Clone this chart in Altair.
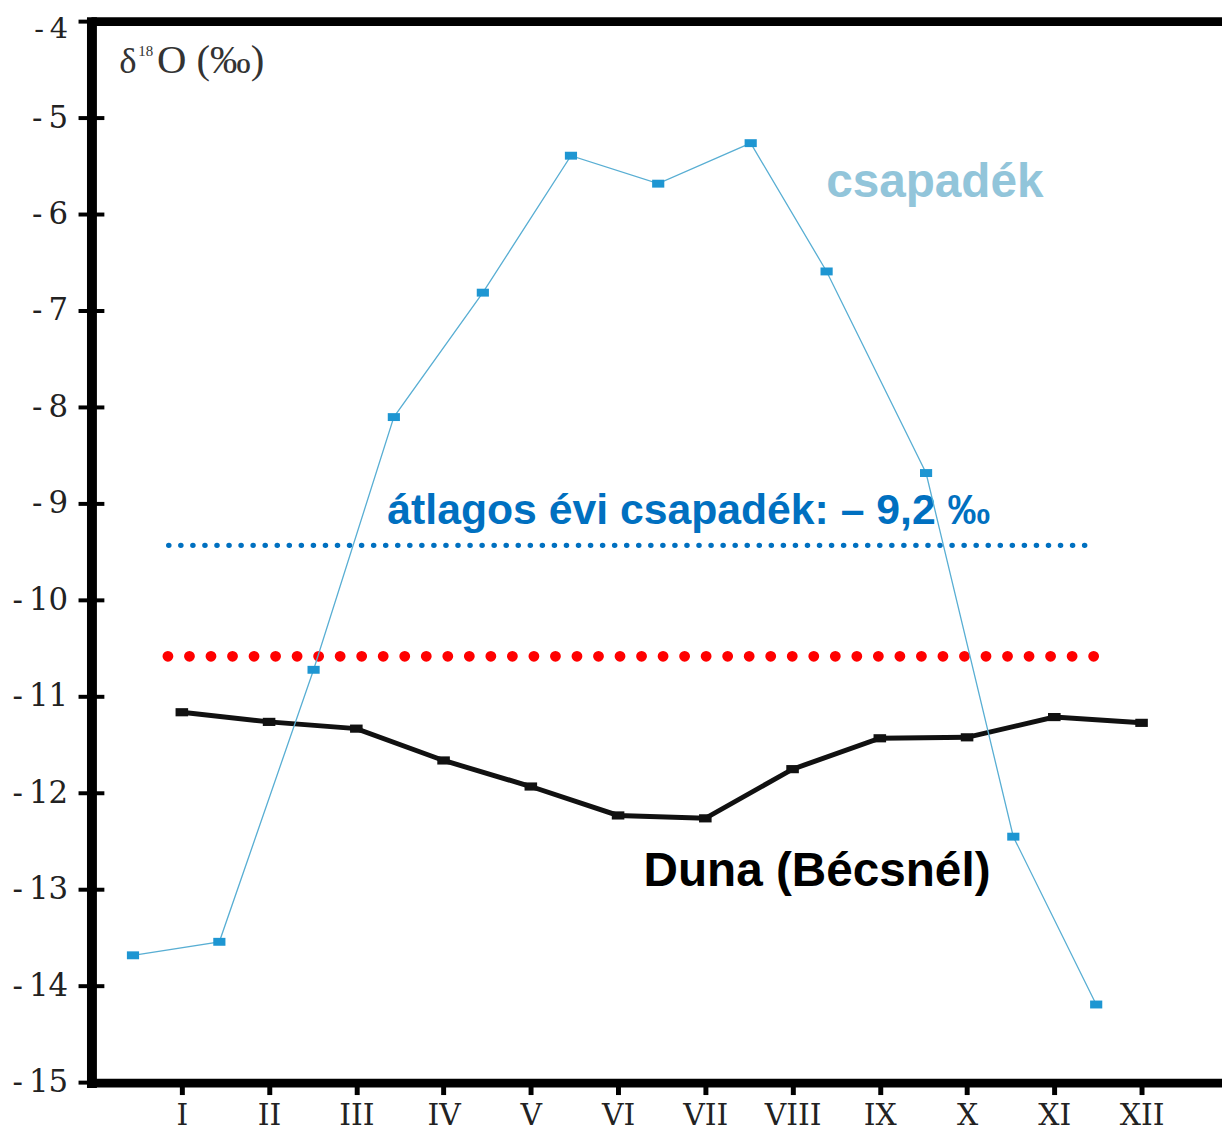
import json
import altair as alt
import pandas as pd

# ---- data ----
months = ["I", "II", "III", "IV", "V", "VI", "VII", "VIII", "IX", "X", "XI", "XII"]
month_num = list(range(1, 13))
# precipitation (csapadék) points sit about half a month before each tick
csapadek_pos = [0.44, 1.43, 2.51, 3.43, 4.45, 5.46, 6.46, 7.52, 8.39, 9.53, 10.53, 11.48]
csapadek = [-13.68, -13.54, -10.72, -8.10, -6.81, -5.39, -5.68, -5.26, -6.59, -8.68, -12.45, -14.19]
# Danube at Vienna
duna = [-11.16, -11.26, -11.33, -11.66, -11.93, -12.23, -12.26, -11.75, -11.43, -11.42, -11.21, -11.27]
y_ticks = list(range(-15, -3))
avg_blue_value = -9.43
avg_blue_span = [0.85, 11.352]
avg_red_value = -10.58
avg_red_span = [0.84, 11.452]

X_DOM = [-0.036, 12.922]
Y_DOM = [-15, -4]

xs = alt.Scale(domain=X_DOM, nice=False, zero=False)
ys = alt.Scale(domain=Y_DOM, nice=False, zero=False)

df_c = pd.DataFrame({"x": csapadek_pos, "v": csapadek})
df_d = pd.DataFrame({"x": month_num, "v": duna})
df_ticks = pd.DataFrame({"v": y_ticks})
df_blue = pd.DataFrame({"x": [avg_blue_span[0]], "x2": [avg_blue_span[1]], "v": [avg_blue_value]})
df_red = pd.DataFrame({"x": [avg_red_span[0]], "x2": [avg_red_span[1]], "v": [avg_red_value]})

label_expr_x = json.dumps(months).replace('"', "'") + "[datum.value - 1]"

x_axis = alt.Axis(
    values=month_num, labelExpr=label_expr_x, title=None, grid=False,
    domainWidth=9, domainColor="black", domainCap="square",
    tickSize=12, tickWidth=5, tickColor="black",
    labelFont="DejaVu Serif", labelFontSize=30, labelColor="#222",
    labelPadding=6, labelBaseline="top", labelFlush=False, labelOverlap=False,
)
top_test = "datum.value === -4"
y_axis = alt.Axis(
    values=y_ticks, labelExpr="'-\u2009' + abs(datum.value)", title=None, grid=False,
    domainWidth=10, domainColor="black", domainCap="square",
    ticks=False, tickSize=0,
    labelFont="DejaVu Serif", labelColor="#222",
    labelFontSize={"condition": {"test": top_test, "value": 29}, "value": 31},
    labelOffset={"condition": {"test": top_test, "value": 7}, "value": 0},
    labelPadding=24, labelFlush=False, labelOverlap=False,
)

X = alt.X("x:Q", scale=xs, axis=x_axis)
Y = alt.Y("v:Q", scale=ys, axis=y_axis)

rect_shape = "M-1,-0.65L1,-0.65L1,0.65L-1,0.65Z"

duna_line = alt.Chart(df_d).mark_line(color="#111", strokeWidth=5).encode(x=X, y=Y)
duna_pts = alt.Chart(df_d).mark_point(
    shape=rect_shape, size=160, filled=True, color="#111", opacity=1
).encode(x=X, y=Y)

c_line = alt.Chart(df_c).mark_line(color="#58AED3", strokeWidth=1.3).encode(x=X, y=Y)
c_pts = alt.Chart(df_c).mark_point(
    shape=rect_shape, size=150, filled=True, color="#1E96D2", opacity=1
).encode(x=X, y=Y)

blue_avg = alt.Chart(df_blue).mark_rule(
    color="#0070C0", strokeWidth=5.5, strokeDash=[0.1, 12.03], strokeCap="round"
).encode(x=X, x2="x2:Q", y=Y)
red_avg = alt.Chart(df_red).mark_rule(
    color="#FF0000", strokeWidth=10.8, strokeDash=[0.1, 21.57], strokeCap="round"
).encode(x=X, x2="x2:Q", y=Y)

# top frame line
top_frame = alt.Chart(pd.DataFrame({"v": [Y_DOM[1]]})).mark_rule(
    color="black", strokeWidth=9
).encode(y=Y)

# y ticks crossing the axis
y_tick_marks = alt.Chart(df_ticks).mark_tick(
    orient="horizontal", size=26, thickness=4, color="black", opacity=1
).encode(x=alt.datum(X_DOM[0], scale=xs), y=Y)


def label(text, x, y, size, color, font="Liberation Sans", weight="bold", align="center"):
    return alt.Chart(pd.DataFrame({"x": [x], "v": [y], "t": [text]})).mark_text(
        font=font, fontSize=size, fontWeight=weight, color=color, align=align, baseline="alphabetic"
    ).encode(x=X, y=Y, text="t:N")


t_delta = label("δ", 0.283, -4.536, 37, "#333", font="Liberation Serif", weight="normal", align="left")
t_18 = label("18", 0.50, -4.36, 15, "#333", font="Liberation Serif", weight="normal", align="left")
t_O = label("O (‰)", 0.715, -4.536, 41, "#333", font="Liberation Serif", weight="normal", align="left")
t_csap = label("csapadék", 9.63, -5.823, 48, "#92C5DA")
t_avg = label("átlagos évi csapadék: – 9,2 ‰", 6.81, -9.207, 43, "#0070C0")
t_duna = label("Duna (Bécsnél)", 8.28, -12.961, 48, "#000000")

chart = alt.layer(
    duna_line, t_delta, t_18, t_O, t_csap, t_avg, t_duna,
    blue_avg, red_avg, top_frame, y_tick_marks, duna_pts, c_line, c_pts,
).properties(
    width=1138, height=1068,
    padding={"left": 84, "top": 10, "right": 0, "bottom": 48},
    autosize=alt.AutoSizeParams(type="none"),
    background="white",
).configure_view(stroke=None)

chart.save("out.html", embed_options={"renderer": "svg", "actions": False})
